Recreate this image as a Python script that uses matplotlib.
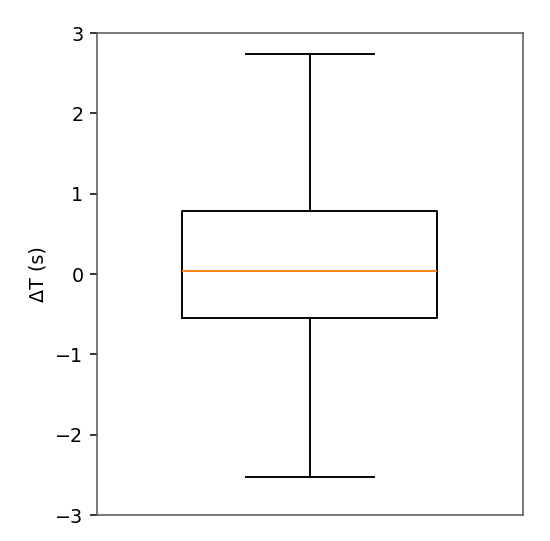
import matplotlib
matplotlib.use("Agg")
import matplotlib.pyplot as plt

# box statistics
label = ""
whisker_low = -2.53
q1 = -0.55
median = 0.035
q3 = 0.78
whisker_high = 2.74

scale = 1.38  # reference looks like a default chart blown up ~1.4x
plt.rcParams['font.size'] = 10 * scale
plt.rcParams['axes.linewidth'] = 0.8 * scale
plt.rcParams['ytick.major.size'] = 3.5 * scale
plt.rcParams['ytick.major.width'] = 0.8 * scale
plt.rcParams['ytick.major.pad'] = 3.5 * scale

stats = [{
    'label': label,
    'whislo': whisker_low,
    'q1': q1,
    'med': median,
    'q3': q3,
    'whishi': whisker_high,
    'fliers': [],
}]

fig = plt.figure(figsize=(5.5, 5.41), dpi=100)
ax = fig.add_axes([0.176, 0.048, 0.774, 0.891])

lw = 1.0 * scale
ax.bxp(stats, widths=0.6, showfliers=False,
       boxprops=dict(color='black', linewidth=lw),
       whiskerprops=dict(color='black', linewidth=lw),
       capprops=dict(color='black', linewidth=lw),
       medianprops=dict(color='#ff7f0e', linewidth=lw))

ax.set_xlim(0.5, 1.5)
ax.set_ylim(-3, 3)
ax.set_yticks([-3, -2, -1, 0, 1, 2, 3])
ax.set_xticks([])
ax.set_ylabel('ΔT (s)', labelpad=4 * scale)
for s in ax.spines.values():
    s.set_color('#555555')

fig.savefig('out.png', dpi=100)
